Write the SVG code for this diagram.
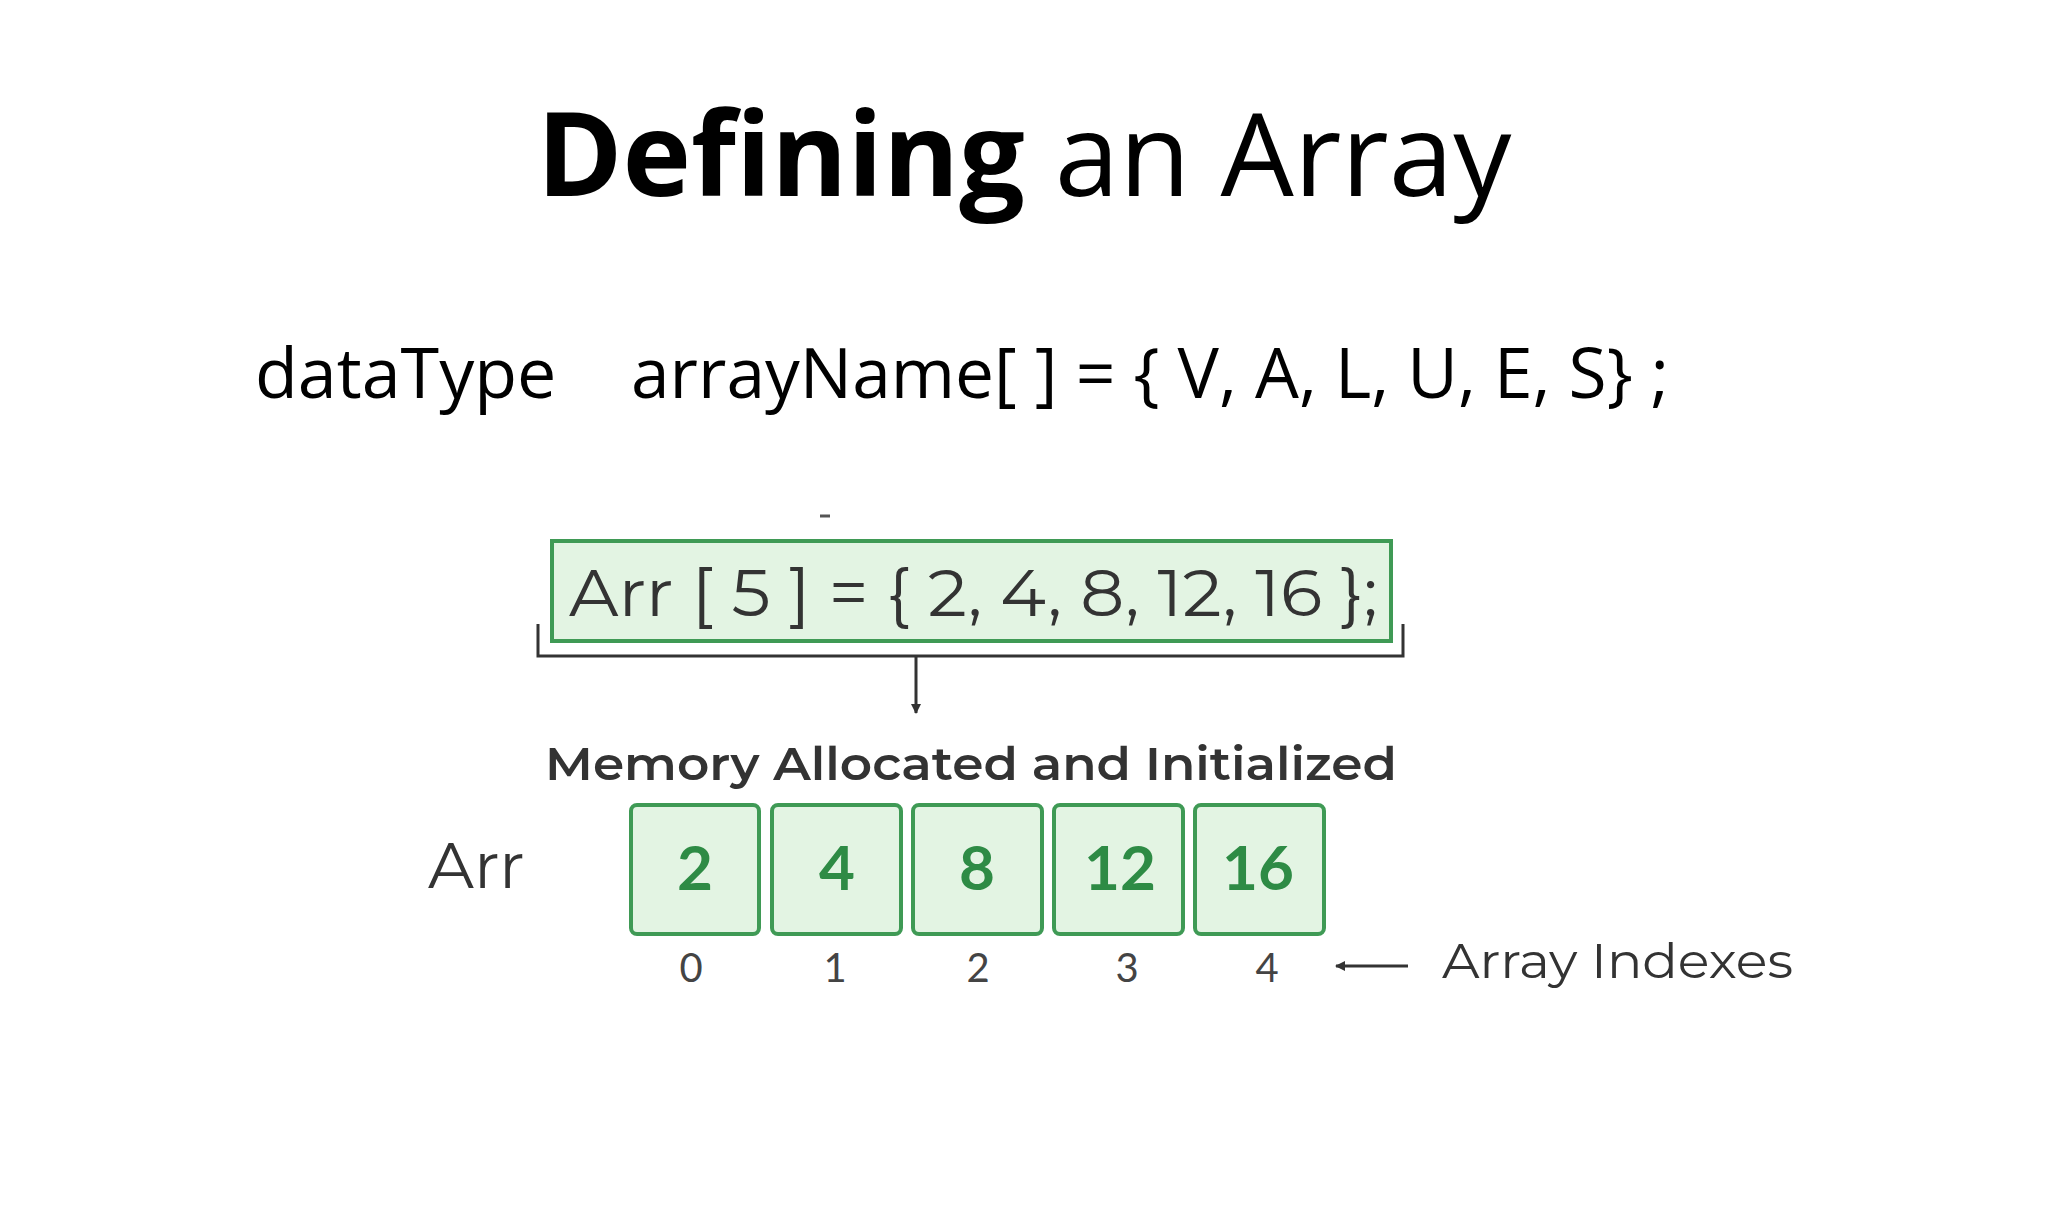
<svg xmlns="http://www.w3.org/2000/svg" width="2048" height="1218" viewBox="0 0 2048 1218">
<style>
.t{font-family:"Open Sans","Noto Sans",sans-serif;fill:#000}
.g{font-family:"Montserrat","Lato","Open Sans",sans-serif;fill:#333}
.cell{fill:#e3f4e3;stroke:#3f9a55;stroke-width:4}
.num{font-family:"Lato","Open Sans",sans-serif;font-weight:bold;font-size:62px;fill:#2e8b45;text-anchor:middle}
.idx{font-family:"Lato","Open Sans",sans-serif;font-size:40px;fill:#444;text-anchor:middle}
.ln{stroke:#333;stroke-width:3;fill:none}
</style>
<defs><marker id="ah" markerWidth="10" markerHeight="10" refX="9" refY="5" orient="auto" markerUnits="userSpaceOnUse"><path d="M0,0 L10,5 L0,10 z" fill="#333"/></marker></defs>
<rect width="2048" height="1218" fill="#fff"/>
<g id="title"><text class="t" x="1024" y="196" font-size="116" text-anchor="middle"><tspan font-weight="bold">Defining</tspan> an Array</text></g>
<g id="syntax"><text class="t" x="255" y="398" font-size="70">dataType</text><text class="t" x="631" y="398" font-size="70" textLength="1038" lengthAdjust="spacingAndGlyphs">arrayName[  ] = { V, A, L, U, E, S}  ;</text></g>
<g id="decl"><rect x="552" y="541" width="839" height="100" fill="#e3f4e3" stroke="#3f9a55" stroke-width="4"/><text class="g" x="569" y="616" font-size="66" textLength="809" lengthAdjust="spacingAndGlyphs">Arr [ 5 ] = { 2, 4, 8, 12, 16 };</text><line x1="820" y1="516" x2="830" y2="516" stroke="#555" stroke-width="3"/></g>
<g id="connectors"><path class="ln" d="M538,624 V656 H1403 V624"/><line class="ln" x1="916" y1="656" x2="916" y2="713" marker-end="url(#ah)"/><line class="ln" x1="1408" y1="966" x2="1336" y2="966" marker-end="url(#ah)"/></g>
<g id="mem"><text class="g" x="545" y="780" font-size="46" font-weight="600" textLength="852" lengthAdjust="spacingAndGlyphs">Memory Allocated and Initialized</text></g>
<g id="arr"><text class="g" x="428" y="888" font-size="64">Arr</text></g>
<g id="cells">
<rect class="cell" x="631" y="805" width="128" height="129" rx="6"/><text class="num" x="695" y="890">2</text>
<rect class="cell" x="772" y="805" width="129" height="129" rx="6"/><text class="num" x="837" y="890">4</text>
<rect class="cell" x="913" y="805" width="129" height="129" rx="6"/><text class="num" x="977" y="890">8</text>
<rect class="cell" x="1054" y="805" width="129" height="129" rx="6"/><text class="num" x="1120" y="890">12</text>
<rect class="cell" x="1195" y="805" width="129" height="129" rx="6"/><text class="num" x="1258" y="890">16</text>
</g>
<g id="indexes"><text class="idx" x="691" y="982">0</text><text class="idx" x="835" y="982">1</text><text class="idx" x="978" y="982">2</text><text class="idx" x="1127" y="982">3</text><text class="idx" x="1267" y="982">4</text>
<text class="g" x="1442" y="978" font-size="48" textLength="351" lengthAdjust="spacingAndGlyphs">Array Indexes</text></g>
</svg>
